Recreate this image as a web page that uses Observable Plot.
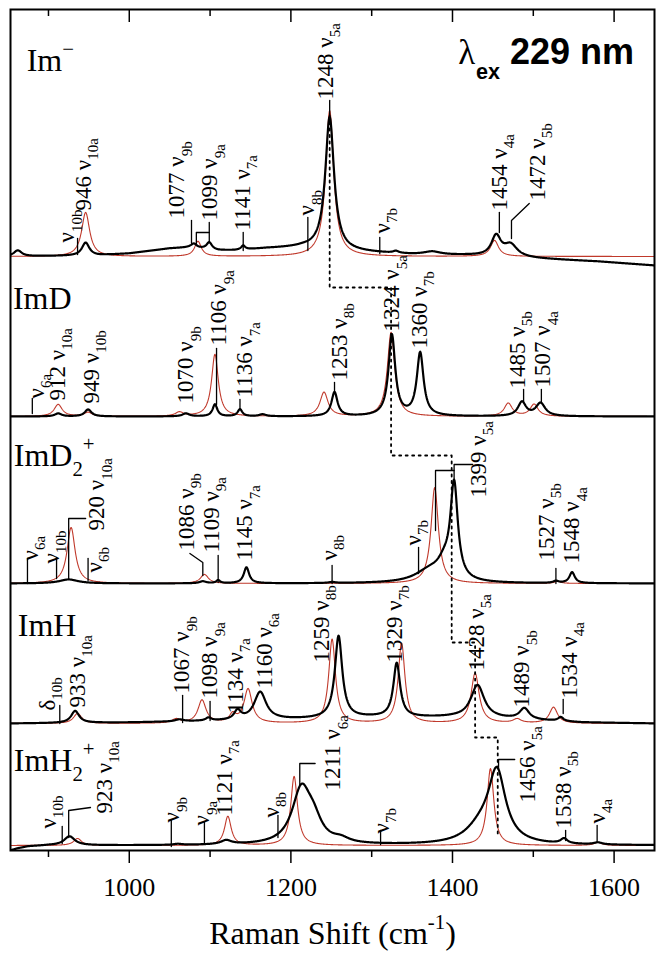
<!DOCTYPE html>
<html><head><meta charset="utf-8">
<script src="https://cdn.jsdelivr.net/npm/d3@7"></script>
<script src="https://cdn.jsdelivr.net/npm/@observablehq/plot@0.6"></script>
<style>body{margin:0;background:#fff}</style>
</head><body><div id="chart"></div>
<script>
// ---------- axis ----------
const xDomain = [853, 1650];
const majorTicks = [1000, 1200, 1400, 1600];
const minorTicks = [900, 1100, 1300, 1500];
const SERIF = "Liberation Serif, Times New Roman, serif";

// ---------- panels (top to bottom) ----------
const panelNames = ["Im^{−}", "ImD", "ImD_{2}^{+}", "ImH", "ImH_{2}^{+}"];
const panelOffsets = [594, 434, 267, 127, 5];
const panelNameX = [873, 856, 857, 862, 857];
const panelNameY = [196, 118, 128, 98, 85];

// ---------- spectra: bands [position cm-1, height, half width] ----------
const imMinusExp  = [[862,6,6],[946,13,5.5],[1080,4,4],[1099,7,4],[1141,4,3],[1248,133,6.5],[1330,2,4],[1375,3,12],[1454,20,7],[1472,12,10]];
const imMinusCalc = [[946,44,6],[1085,15,5],[1248,146,6],[1452,16,6]];
const imDExp      = [[912,3,5],[949,7,5],[1070,3,5],[1106,12,3.5],[1137,7,3.5],[1165,2,5],[1254,24,4.5],[1325,81,5],[1360,63,5],[1486,14,6],[1509,13,7]];
const imDCalc     = [[912,12,6],[949,4,6],[1062,4,6],[1106,62,5],[1241,24,6],[1324,84,5.5],[1469,13,6],[1501,12,6]];
const imD2Exp     = [[925,4,14],[1091,2,5],[1110,3,3],[1145,16,4],[1251,1,5],[1372,12,22],[1390,14,10],[1402,94,5.5],[1528,2,4],[1548,11,4]];
const imD2Calc    = [[928,56,6],[1093,9,6],[1378,96,5.5],[1530,2,5]];
const imHExp      = [[933,12,6],[1062,2,6],[1098,3,4],[1134,9,5],[1162,28,9],[1259,82,5.5],[1331,54,5],[1431,33,10],[1489,11,7],[1534,4,4]];
const imHCalc     = [[936,10,6],[1058,4,6],[1090,23,6],[1128,8,5],[1147,34,6],[1251,84,5],[1337,80,5],[1428,50,6],[1480,4,6],[1525,16,6]];
const imH2Exp     = [[926,9,8],[1060,1,6],[1120,4,8],[1213,54,14],[1228,18,12],[1262,4,12],[1435,15,22],[1455,70,13],[1538,5,5],[1580,2,6]];
const imH2Calc    = [[936,7,6],[1122,29,5],[1204,69,5],[1447,77,5],[1580,3,6]];

// backgrounds of the measured spectra [cm-1, level]
const imMinusExpBase = [[853,0],[960,1],[1000,3],[1050,8],[1075,9],[1110,6],[1130,6],[1170,8],[1215,9],[1270,5],[1350,2],[1420,1],[1500,-2],[1580,-5],[1650,-9]];
const imHExpBase     = [[853,0],[1000,1],[1150,3],[1200,4],[1300,6],[1400,6],[1480,4],[1560,1],[1650,0]];
const imH2ExpBase    = [[853,-5],[862,-3],[875,-1],[900,0],[1650,0]];
const flatBase       = [[853,0],[1650,0]];

// ---------- band labels [text, position, height above baseline] ----------
const labelsP1 = [["ν_{10b}",923,14],["946 ν_{10a}",943,46],["1077 ν_{9b}",1059,38],["1099 ν_{9a}",1100,36],["1141 ν_{7a}",1140,26],["ν_{8b}",1220,41],["1248 ν_{5a}",1243,157],["ν_{7b}",1313,23],["1454 ν_{4a}",1458,46],["1472 ν_{5b}",1505,56]];
const labelsP2 = [["ν_{6a}",885,18],["912 ν_{10a}",911,16],["949 ν_{10b}",953,13],["1070 ν_{9b}",1070,13],["1106 ν_{9a}",1111,71],["1136 ν_{7a}",1143,19],["1253 ν_{8b}",1260,36],["1324 ν_{5a}",1325,85],["1360 ν_{7b}",1359,68],["1485 ν_{5b}",1480,28],["1507 ν_{4a}",1512,29]];
const labelsP3 = [["ν_{6a}",878,23],["ν_{10b}",904,20],["920 ν_{10a}",960,53],["ν_{6b}",957,11],["1086 ν_{9b}",1071,33],["1109 ν_{9a}",1102,31],["1145 ν_{7a}",1143,23],["ν_{8b}",1248,23],["ν_{7b}",1352,38],["1399 ν_{5a}",1432,86],["1527 ν_{5b}",1516,23],["1548 ν_{4a}",1548,20]];
const labelsP4 = [["δ_{10b}",899,13],["933 ν_{10a}",936,16],["1067 ν_{9b}",1065,30],["1098 ν_{9a}",1100,25],["1134 ν_{7a}",1131,10],["1160 ν_{6a}",1167,35],["1259 ν_{8b}",1238,61],["1329 ν_{7b}",1328,61],["1428 ν_{5a}",1430,53],["1489 ν_{5b}",1486,16],["1534 ν_{4a}",1545,25]];
const labelsP5 = [["ν_{10b}",900,17],["923 ν_{10a}",969,32],["ν_{9b}",1053,23],["ν_{9a}",1090,20],["1121 ν_{7a}",1118,30],["ν_{8b}",1176,28],["1211 ν_{6a}",1252,55],["ν_{7b}",1312,12],["1456 ν_{5a}",1493,43],["1538 ν_{5b}",1537,17],["ν_{4a}",1579,22]];

// ---------- leader lines [[cm-1, height], ...] ----------
const leadersP1 = [[[936,2],[936,18]],[[1077,13],[1077,36]],[[1083,13],[1083,24],[1099,24]],[[1099,14],[1099,34]],[[1141,6],[1141,24]],[[1221,6],[1221,39]],[[1248,141],[1248,156]],[[1310,3],[1310,19]],[[1458,24],[1458,44]],[[1473,18],[1473,36],[1495,53]]];
const leadersP2 = [[[880,3],[880,18]],[[1108,12],[1108,68]],[[1137,7],[1137,17]],[[1254,25],[1254,34]],[[1488,15],[1488,27]],[[1510,14],[1510,27]]];
const leadersP3 = [[[874,0],[874,25]],[[910,5],[910,26]],[[925,5],[925,65],[946,65]],[[949,3],[949,25]],[[1091,8],[1091,21],[1075,30]],[[1110,1],[1110,28]],[[1251,0],[1251,18]],[[1358,10],[1358,36]],[[1379,53],[1379,113],[1402,113]],[[1402,100],[1402,119],[1425,119]],[[1528,0],[1528,15]]];
const leadersP4 = [[[914,0],[914,18]],[[1066,1],[1066,28]],[[1100,3],[1100,22]],[[1537,10],[1537,24]]];
const leadersP5 = [[[917,2],[917,19]],[[925,8],[925,35],[952,38]],[[1052,-1],[1052,25]],[[1093,2],[1093,23]],[[1184,8],[1184,30]],[[1211,60],[1211,82],[1230,82]],[[1311,1],[1311,15]],[[1457,77],[1457,86],[1477,86]],[[1540,5],[1540,15]],[[1579,3],[1579,20]]];

// dotted correlation of the ν5a band [cm-1, absolute level]
const nu5aPath = [[1248,735],[1248,563],[1324,563],[1324,395],[1399,395],[1399,208],[1428,208],[1428,113],[1456,113],[1456,17]];

// ---------- build tables ----------
const series = [
  {panel:0, kind:"exp", peaks:imMinusExp, base:imMinusExpBase}, {panel:0, kind:"calc", peaks:imMinusCalc, base:flatBase},
  {panel:1, kind:"exp", peaks:imDExp, base:flatBase},          {panel:1, kind:"calc", peaks:imDCalc, base:flatBase},
  {panel:2, kind:"exp", peaks:imD2Exp, base:flatBase},         {panel:2, kind:"calc", peaks:imD2Calc, base:flatBase},
  {panel:3, kind:"exp", peaks:imHExp, base:imHExpBase},        {panel:3, kind:"calc", peaks:imHCalc, base:flatBase},
  {panel:4, kind:"exp", peaks:imH2Exp, base:imH2ExpBase},      {panel:4, kind:"calc", peaks:imH2Calc, base:flatBase}
];
const grid = d3.range(xDomain[0], xDomain[1] + 0.01, 0.5);
const rows = series.flatMap((s, i) => {
  const b = d3.scaleLinear(s.base.map(k => k[0]), s.base.map(k => k[1])).clamp(true);
  return grid.map(x => ({id: i, kind: s.kind, x,
    y: panelOffsets[s.panel] + b(x) + d3.sum(s.peaks, ([c, h, w]) => h / (1 + ((x - c) / w) ** 2))}));
});
const allLabels = [labelsP1, labelsP2, labelsP3, labelsP4, labelsP5].flatMap((ls, p) =>
  ls.map(([t, x, y]) => ({t, x, y: panelOffsets[p] + y})));
const leaderRows = [leadersP1, leadersP2, leadersP3, leadersP4, leadersP5].flatMap((ls, p) =>
  ls.flatMap((pl, j) => pl.map(([x, y]) => ({id: p + "-" + j, x, y: panelOffsets[p] + y}))));
const nameRows = panelNames.map((t, i) => ({t, x: panelNameX[i], y: panelOffsets[i] + panelNameY[i]}));

const svg = Plot.plot({
  width: 664, height: 961,
  marginTop: 9, marginBottom: 111, marginLeft: 10, marginRight: 10,
  x: {domain: xDomain},
  y: {domain: [0, 841], axis: null},
  style: {fontFamily: SERIF, fontSize: "26px", background: "#fff", color: "#000"},
  marks: [
    Plot.line(rows.filter(d => d.kind === "calc"), {x: "x", y: "y", z: "id", stroke: "#c0392b", strokeWidth: 1.1, clip: true}),
    Plot.line(rows.filter(d => d.kind === "exp"), {x: "x", y: "y", z: "id", stroke: "#000", strokeWidth: 2.2, clip: true}),
    Plot.line(nu5aPath, {x: d => d[0], y: d => d[1], stroke: "#000", strokeWidth: 1.8, strokeDasharray: "2,4.5"}),
    Plot.line(leaderRows, {x: "x", y: "y", z: "id", stroke: "#000", strokeWidth: 1.3}),
    Plot.text(allLabels, {x: "x", y: "y", text: "t", rotate: -90, textAnchor: "start", lineAnchor: "middle", fontSize: 23, fontFamily: SERIF}),
    Plot.text(nameRows, {x: "x", y: "y", text: "t", textAnchor: "start", lineAnchor: "middle", fontSize: 32, fontFamily: SERIF}),
    Plot.text(["λ"], {x: 1407, y: panelOffsets[0] + 204, text: d => d, textAnchor: "start", lineAnchor: "middle", fontSize: 35, fontFamily: SERIF}),
    Plot.text(["_{ex} 229 nm"], {x: 1429, y: panelOffsets[0] + 204, text: d => d, textAnchor: "start", lineAnchor: "middle", fontSize: 36, fontWeight: "bold", fontFamily: "Liberation Sans, Arial, sans-serif"}),
    Plot.text(["Raman Shift (cm^{-1})"], {frameAnchor: "bottom", dy: 83, text: d => d, lineAnchor: "middle", fontSize: 32, fontFamily: SERIF}),
    Plot.tickX(majorTicks, {x: d => d, insetBottom: 828, strokeWidth: 1.5}),
    Plot.tickX(minorTicks, {x: d => d, insetBottom: 834, strokeWidth: 1.5}),
    Plot.axisX({ticks: majorTicks, tickSize: 13, tickPadding: 14, tickFormat: d => String(d), label: null, fontSize: 26, fontFamily: SERIF, strokeWidth: 1.5}),
    Plot.axisX({ticks: minorTicks, tickSize: 7, tickFormat: () => "", label: null, strokeWidth: 1.5}),
    Plot.frame({stroke: "#000", strokeWidth: 2})
  ]
});
document.getElementById("chart").append(svg);

// sub-/superscripts: "_{..}" and "^{..}"
const NS = "http://www.w3.org/2000/svg";
svg.querySelectorAll("text").forEach(t => {
  const s = t.textContent;
  if (!/[_^]\{/.test(s)) return;
  const cs = getComputedStyle(t);
  const fs = parseFloat(cs.fontSize);
  const bold = +cs.fontWeight >= 600;
  const subK = bold ? 0.42 : 0.32, supK = 0.45, small = bold ? 0.6 : 0.65;
  t.textContent = "";
  const re = /([_^])\{([^}]*)\}|([^_^]+)/g;
  let shift = 0, m;
  while ((m = re.exec(s))) {
    const span = document.createElementNS(NS, "tspan");
    let target = 0;
    if (m[1]) {
      target = m[1] === "_" ? fs * subK : -fs * supK;
      span.setAttribute("font-size", (fs * small).toFixed(1));
      span.textContent = m[2];
    } else span.textContent = m[3];
    const dy = target - shift;
    if (dy) span.setAttribute("dy", dy.toFixed(1));
    shift = target;
    t.appendChild(span);
  }
});
</script></body></html>
